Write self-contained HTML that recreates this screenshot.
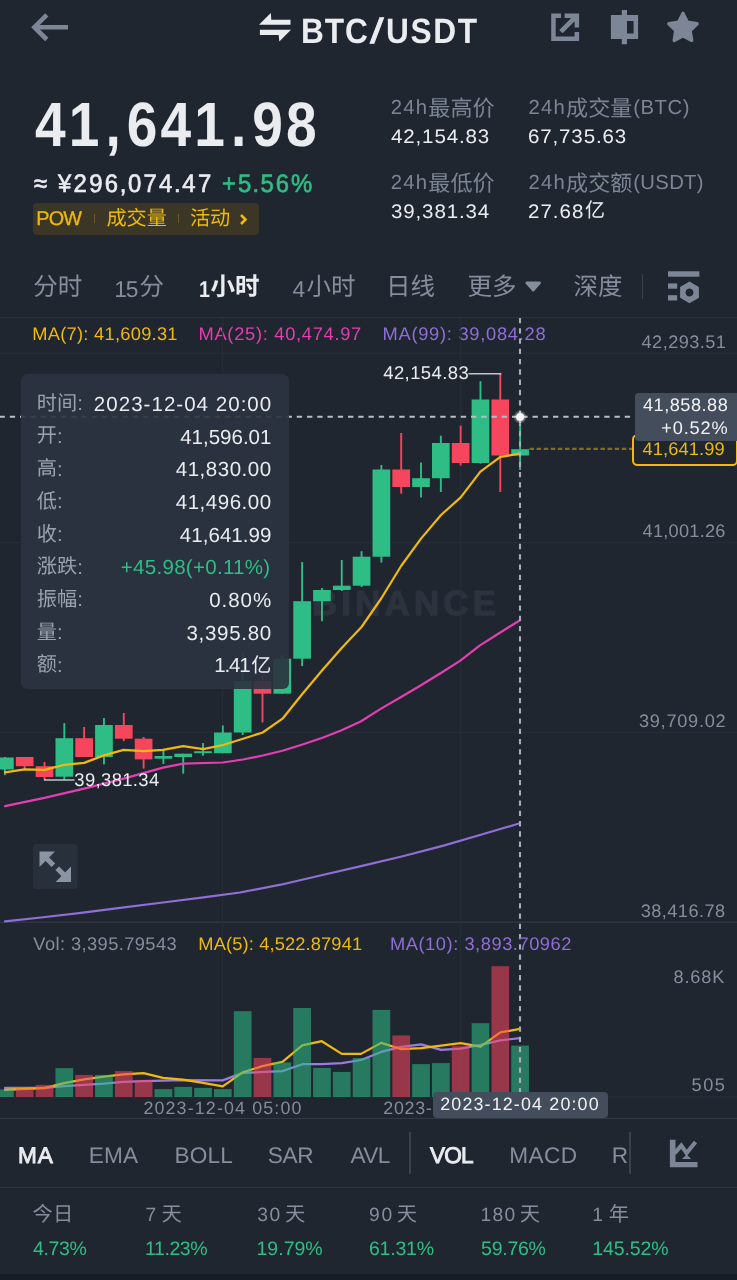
<!DOCTYPE html>
<html lang="zh"><head><meta charset="utf-8"><title>BTC/USDT</title>
<style>
html,body{margin:0;padding:0;background:#1f2630;}
body{width:737px;height:1280px;overflow:hidden;position:relative;font-family:"Liberation Sans",sans-serif;text-rendering:geometricPrecision;}
#app{position:absolute;left:0;top:0;width:737px;height:1280px;will-change:transform}
.abs{position:absolute;display:block}
.t{position:absolute;white-space:nowrap;line-height:1;}
.c{font-family:"Liberation Sans","Noto Sans CJK SC",sans-serif;display:inline-block;line-height:1;}
.cb .c{font-weight:bold}
.p{margin:0 3.2px}
.q{margin:0 -0.7px}
.m{-webkit-text-stroke:0.65px currentColor}
.m3{-webkit-text-stroke:0.3px currentColor}
.m9{-webkit-text-stroke:0.9px currentColor}
.wm{-webkit-text-stroke:1.3px currentColor}
</style></head><body>
<div id="app">
<svg class="abs" style="left:0;top:0" width="737" height="70" viewBox="0 0 737 70">
<g fill="none" stroke="#7d8696" stroke-width="4.6" stroke-linejoin="miter">
<path d="M46.8 14.9 L34.4 27.2 L46.8 39.5"/><path d="M34.4 27.2 H68"/></g>
<g fill="#eaecef">
<path d="M259 24.8 L270.8 13 L271.3 19.7 H290.5 V24.8 Z"/>
<path d="M291 29.8 L279.3 41.6 L278.7 35 H259.9 V29.8 Z"/></g>
<g fill="#7d8696">
<path d="M551.2 13.4 H561 V17.9 H555.7 V36.5 H574.6 V32.1 H579.1 V41 H551.2 Z"/>
<path d="M564.6 13.4 H579.1 V27.6 H574.6 V21.3 L562.6 33.3 L559.2 29.9 L571.2 17.9 H564.6 Z"/>
<path d="M621.8 10.1 H627 V14.9 H638.1 V39.1 H627 V44.3 H621.8 V39.1 H610.9 V14.9 H621.8 Z M627 20.9 V33.6 H633.6 V20.9 Z" fill-rule="evenodd"/>
<path d="M683.0 13.4 L687.4 22.2 L697.1 23.7 L690.1 30.6 L691.7 40.4 L683.0 35.8 L674.2 40.4 L675.8 30.6 L668.8 23.7 L678.5 22.2 Z" stroke="#7d8696" stroke-width="3.4" stroke-linejoin="round"/>
</g></svg>
<div class="t" style="top:14.0px;font-size:35.2px;color:#eaecef;left:300.68px;letter-spacing:0.932px;font-weight:bold;transform:scaleX(0.9);transform-origin:left top;">BTC</div>
<div class="t m" style="top:14.0px;font-size:35.2px;color:#eaecef;left:369.8px;transform:scaleX(1.401);transform-origin:left top;">/</div>
<div class="t" style="top:14.0px;font-size:35.2px;color:#eaecef;left:385.5px;letter-spacing:1.817px;font-weight:bold;transform:scaleX(0.9);transform-origin:left top;">USDT</div>
<div class="t" style="top:94.41px;font-size:62.6px;color:#eaecef;left:35px;letter-spacing:3.6px;font-weight:bold;transform:scaleX(0.88);transform-origin:left top;">41<span class="p">,</span>641<span class="p">.</span>98</div>
<div class="t m" style="top:171.7px;font-size:25.4px;color:#eaecef;left:33.5px;transform:scaleX(0.94);transform-origin:left top;">≈</div>
<div class="t m" style="top:171.7px;font-size:25.4px;color:#eaecef;left:57.8px;letter-spacing:2.45px;transform:scaleX(0.94);transform-origin:left top;">¥296<span class="q">,</span>074<span class="q">.</span>47</div>
<div class="t m" style="top:171.7px;font-size:25.4px;color:#2ebd85;left:221.5px;letter-spacing:2.1px;transform:scaleX(0.94);transform-origin:left top;">+5<span class="q">.</span>56%</div>
<div class="abs" style="left:33px;top:202.7px;width:226.2px;height:32.3px;background:#3b3626;border-radius:4px;"></div>
<div class="t m3" style="top:209.81px;font-size:19.83px;color:#f0b90b;left:36.37px;letter-spacing:-0.886px;">POW</div>
<div class="abs" style="left:93.6px;top:214.4px;width:1.4px;height:8.6px;background:#6a5a25;"></div>
<div class="t" style="top:208.8px;font-size:20.2px;color:#f0b90b;left:106.4px;"><span class="c">成交量</span></div>
<div class="abs" style="left:177.8px;top:214.4px;width:1.4px;height:8.6px;background:#6a5a25;"></div>
<div class="t" style="top:208.8px;font-size:20.2px;color:#f0b90b;left:189.9px;"><span class="c">活动</span></div>
<svg class="abs" style="left:237px;top:211px" width="12" height="18" viewBox="0 0 12 18"><path d="M4 4 L8.5 8.5 L4 13" fill="none" stroke="#f0b90b" stroke-width="2.6"/></svg>
<div class="t" style="top:97.82px;font-size:20.3px;color:#7b8595;left:390.68px;letter-spacing:1.235px;">24h</div>
<div class="t" style="top:97.6px;font-size:22.1px;color:#7b8595;left:428.3px;"><span class="c">最高价</span></div>
<div class="t" style="top:127.65px;font-size:19.55px;color:#eaecef;left:391.23px;letter-spacing:0.828px;transform:scaleX(1.05);transform-origin:left top;">42,154.83</div>
<div class="t" style="top:97.82px;font-size:20.3px;color:#7b8595;left:528.48px;letter-spacing:1.235px;">24h</div>
<div class="t" style="top:97.6px;font-size:22.1px;color:#7b8595;left:566.1px;"><span class="c">成交量</span></div>
<div class="t" style="top:97.82px;font-size:20.3px;color:#7b8595;left:633.24px;letter-spacing:0.524px;">(BTC)</div>
<div class="t" style="top:127.65px;font-size:19.55px;color:#eaecef;left:528.46px;letter-spacing:0.824px;transform:scaleX(1.05);transform-origin:left top;">67,735.63</div>
<div class="t" style="top:172.72px;font-size:20.3px;color:#7b8595;left:390.68px;letter-spacing:1.235px;">24h</div>
<div class="t" style="top:172.5px;font-size:22.1px;color:#7b8595;left:428.3px;"><span class="c">最低价</span></div>
<div class="t" style="top:202.95px;font-size:19.55px;color:#eaecef;left:390.92px;letter-spacing:0.829px;transform:scaleX(1.05);transform-origin:left top;">39,381.34</div>
<div class="t" style="top:172.72px;font-size:20.3px;color:#7b8595;left:528.48px;letter-spacing:1.235px;">24h</div>
<div class="t" style="top:172.5px;font-size:22.1px;color:#7b8595;left:566.1px;"><span class="c">成交额</span></div>
<div class="t" style="top:172.72px;font-size:20.3px;color:#7b8595;left:633.24px;letter-spacing:0.328px;">(USDT)</div>
<div class="t" style="top:202.95px;font-size:19.55px;color:#eaecef;left:528.47px;letter-spacing:0.966px;transform:scaleX(1.05);transform-origin:left top;">27.68</div>
<div class="t" style="top:201px;font-size:20px;color:#eaecef;left:585px;"><span class="c">亿</span></div>
<div class="t" style="top:276.2px;font-size:24.5px;color:#848e9c;left:33.2px;"><span class="c">分时</span></div>
<div class="t" style="top:278.23px;font-size:22.77px;color:#848e9c;left:114.37px;letter-spacing:-1.337px;">15</div>
<div class="t" style="top:276.2px;font-size:24.5px;color:#848e9c;left:139.4px;"><span class="c">分</span></div>
<div class="t" style="top:278.23px;font-size:22.77px;color:#eaecef;left:199.07px;letter-spacing:-2.456px;font-weight:bold;transform:scaleX(0.86);transform-origin:left top;">1</div>
<div class="t cb" style="top:276.2px;font-size:24.5px;color:#eaecef;left:210.4px;"><span class="c">小时</span></div>
<div class="t" style="top:278.23px;font-size:22.77px;color:#848e9c;left:292.58px;letter-spacing:-0.974px;">4</div>
<div class="t" style="top:276.2px;font-size:24.5px;color:#848e9c;left:306.4px;"><span class="c">小时</span></div>
<div class="t" style="top:276.2px;font-size:24.5px;color:#848e9c;left:386px;"><span class="c">日线</span></div>
<div class="t" style="top:276.2px;font-size:24.5px;color:#848e9c;left:467.6px;"><span class="c">更多</span></div>
<svg class="abs" style="left:523px;top:278px" width="20" height="16" viewBox="523 278 20 16"><path d="M526.8 282.8 H539.6 L533.2 290.2 Z" fill="#848e9c" stroke="#848e9c" stroke-width="2.6" stroke-linejoin="round"/></svg>
<div class="t" style="top:276.2px;font-size:24.5px;color:#848e9c;left:573.4px;"><span class="c">深度</span></div>
<div class="abs" style="left:641.8px;top:274px;width:1.6px;height:24.5px;background:#3a424e;"></div>
<svg class="abs" style="left:660px;top:265px" width="50" height="45" viewBox="660 265 50 45"><g fill="#7d8696">
<rect x="668" y="271.3" width="31.4" height="5.4"/><rect x="668" y="283.4" width="9.2" height="5.3"/><rect x="668" y="295.2" width="9.2" height="5.3"/>
<path fill-rule="evenodd" d="M689.5 281.6 L698.9 287 V297.8 L689.5 303.2 L680.1 297.8 V287 Z M689.5 288.4 a4 4 0 1 0 0.01 0 Z"/></g></svg>
<div class="abs" style="left:0px;top:317.4px;width:737px;height:1px;background:#29313c;"></div>
<div class="t" style="top:324.91px;font-size:18.3px;color:#f0b90b;left:32.2px;letter-spacing:0.273px;">MA(7): 41,609.31</div>
<div class="t" style="top:324.91px;font-size:18.3px;color:#e33fb0;left:198.5px;letter-spacing:0.709px;">MA(25): 40,474.97</div>
<div class="t" style="top:324.91px;font-size:18.3px;color:#8f6fd6;left:382.5px;letter-spacing:0.733px;">MA(99): 39,084.28</div>
<div class="t wm" style="top:587.36px;font-size:34.78px;color:#2c333e;left:311.97px;letter-spacing:4.257px;font-weight:bold;">BINANCE</div>
<svg class="abs" style="left:0;top:318px" width="737" height="802" viewBox="0 318 737 802">
<rect x="0" y="352.7" width="737" height="1" fill="#272e39"/>
<rect x="0" y="542.2" width="737" height="1" fill="#272e39"/>
<rect x="0" y="731.8" width="737" height="1" fill="#272e39"/>
<rect x="0" y="921.6" width="737" height="1.2" fill="#323a46"/>
<rect x="0" y="1096.4" width="737" height="1" fill="#272e39"/>
<rect x="222.2" y="318" width="1" height="779" fill="#272e39"/>
<rect x="460.2" y="318" width="1" height="779" fill="#272e39"/>
<rect x="3.93" y="757" width="1.9" height="18.0" fill="#2ebd85"/>
<rect x="-3.97" y="757.5" width="17.7" height="12.0" fill="#2ebd85"/>
<rect x="23.75" y="757" width="1.9" height="12.5" fill="#f6465d"/>
<rect x="15.85" y="757" width="17.7" height="9.2" fill="#f6465d"/>
<rect x="43.57" y="762" width="1.9" height="18.0" fill="#f6465d"/>
<rect x="35.67" y="766.2" width="17.7" height="10.8" fill="#f6465d"/>
<rect x="63.38" y="723.2" width="1.9" height="56.2" fill="#2ebd85"/>
<rect x="55.48" y="738.2" width="17.7" height="38.5" fill="#2ebd85"/>
<rect x="83.20" y="727" width="1.9" height="30.0" fill="#f6465d"/>
<rect x="75.30" y="738.2" width="17.7" height="18.8" fill="#f6465d"/>
<rect x="103.01" y="718" width="1.9" height="46.4" fill="#2ebd85"/>
<rect x="95.11" y="725" width="17.7" height="32.0" fill="#2ebd85"/>
<rect x="122.83" y="713" width="1.9" height="28.2" fill="#f6465d"/>
<rect x="114.93" y="725" width="17.7" height="13.7" fill="#f6465d"/>
<rect x="142.65" y="737" width="1.9" height="31.6" fill="#f6465d"/>
<rect x="134.75" y="738.7" width="17.7" height="20.7" fill="#f6465d"/>
<rect x="162.46" y="750" width="1.9" height="14.0" fill="#2ebd85"/>
<rect x="154.56" y="756" width="17.7" height="2.7" fill="#2ebd85"/>
<rect x="182.28" y="753.7" width="1.9" height="20.0" fill="#2ebd85"/>
<rect x="174.38" y="753.7" width="17.7" height="3.3" fill="#2ebd85"/>
<rect x="202.09" y="743" width="1.9" height="12.7" fill="#2ebd85"/>
<rect x="194.19" y="751.2" width="17.7" height="2.0" fill="#2ebd85"/>
<rect x="221.91" y="725.5" width="1.9" height="27.7" fill="#2ebd85"/>
<rect x="214.01" y="732.5" width="17.7" height="20.7" fill="#2ebd85"/>
<rect x="241.73" y="652.5" width="1.9" height="82.5" fill="#2ebd85"/>
<rect x="233.83" y="681" width="17.7" height="51.5" fill="#2ebd85"/>
<rect x="261.54" y="675" width="1.9" height="47.5" fill="#f6465d"/>
<rect x="253.64" y="681" width="17.7" height="12.7" fill="#f6465d"/>
<rect x="281.36" y="655" width="1.9" height="38.7" fill="#2ebd85"/>
<rect x="273.46" y="658.7" width="17.7" height="35.0" fill="#2ebd85"/>
<rect x="301.17" y="562" width="1.9" height="104.0" fill="#2ebd85"/>
<rect x="293.27" y="601.2" width="17.7" height="57.5" fill="#2ebd85"/>
<rect x="320.99" y="588" width="1.9" height="33.2" fill="#2ebd85"/>
<rect x="313.09" y="590" width="17.7" height="11.2" fill="#2ebd85"/>
<rect x="340.81" y="560" width="1.9" height="31.0" fill="#2ebd85"/>
<rect x="332.91" y="585.7" width="17.7" height="4.3" fill="#2ebd85"/>
<rect x="360.62" y="551.2" width="1.9" height="35.8" fill="#2ebd85"/>
<rect x="352.72" y="556.7" width="17.7" height="29.0" fill="#2ebd85"/>
<rect x="380.44" y="465" width="1.9" height="97.5" fill="#2ebd85"/>
<rect x="372.54" y="469.5" width="17.7" height="87.2" fill="#2ebd85"/>
<rect x="400.25" y="433" width="1.9" height="60.7" fill="#f6465d"/>
<rect x="392.35" y="469.5" width="17.7" height="17.5" fill="#f6465d"/>
<rect x="420.07" y="462.5" width="1.9" height="35.0" fill="#2ebd85"/>
<rect x="412.17" y="478.2" width="17.7" height="8.8" fill="#2ebd85"/>
<rect x="439.89" y="435.7" width="1.9" height="56.3" fill="#2ebd85"/>
<rect x="431.99" y="443" width="17.7" height="35.2" fill="#2ebd85"/>
<rect x="459.70" y="425.7" width="1.9" height="39.8" fill="#f6465d"/>
<rect x="451.80" y="443" width="17.7" height="20.0" fill="#f6465d"/>
<rect x="479.52" y="381.2" width="1.9" height="82.5" fill="#2ebd85"/>
<rect x="471.62" y="399.5" width="17.7" height="63.5" fill="#2ebd85"/>
<rect x="499.33" y="373.7" width="1.9" height="118.3" fill="#f6465d"/>
<rect x="491.43" y="399.5" width="17.7" height="56.0" fill="#f6465d"/>
<rect x="519.15" y="421" width="1.9" height="49.0" fill="#2ebd85"/>
<rect x="511.25" y="449.2" width="17.7" height="6.3" fill="#2ebd85"/>
<path d="M5.0 921.4 L41.0 917.5 L81.0 912.8 L122.0 907.6 L163.0 902.5 L203.5 897.3 L240.0 892.5 L280.7 884.7 L321.4 875.3 L362.1 865.9 L402.8 856.2 L443.5 845.6 L484.2 833.8 L519.8 823.3" fill="none" stroke="#8f6fd6" stroke-width="2.2" stroke-linejoin="round" stroke-linecap="round"/>
<path d="M5.0 806.1 L44.4 797.9 L84.1 788.6 L123.6 778.6 L163.0 767.6 L183.2 763.7 L223.0 762.5 L243.0 759.5 L262.7 755.5 L282.5 750.7 L302.5 744.5 L322.5 737.8 L341.0 730.5 L360.7 721.5 L380.2 709.1 L399.8 697.7 L419.3 686.3 L440.5 673.3 L460.0 660.9 L479.6 645.6 L499.1 633.2 L520.0 620.2" fill="none" stroke="#e33fb0" stroke-width="2.2" stroke-linejoin="round" stroke-linecap="round"/>
<path d="M5.0 772.4 L24.5 769.4 L44.4 769.9 L64.2 764.9 L84.1 762.9 L103.9 755.4 L123.6 749.9 L143.6 751.2 L163.0 749.9 L183.2 746.2 L203.2 749.2 L223.0 745.0 L243.0 738.7 L262.7 732.5 L282.5 718.7 L302.5 693.7 L322.0 670.5 L341.7 648.0 L361.5 627.0 L381.2 598.5 L401.1 566.0 L421.0 538.6 L441.0 515.0 L460.7 497.4 L480.4 471.6 L500.4 456.9 L520.1 453.6" fill="none" stroke="#f0b90b" stroke-width="2.2" stroke-linejoin="round" stroke-linecap="round"/>
<path d="M5.0 1087.9 L44.4 1087.9 L64.2 1086.1 L103.9 1083.6 L123.6 1081.9 L143.6 1081.1 L183.0 1080.2 L222.7 1080.4 L242.7 1072.9 L282.4 1071.1 L302.3 1064.2 L321.8 1064.2 L341.8 1063.2 L361.0 1060.0 L381.2 1051.9 L401.2 1046.9 L421.2 1044.4 L441.1 1049.9 L460.6 1048.6 L480.6 1044.9 L500.3 1040.4 L519.8 1038.1" fill="none" stroke="#9a7be0" stroke-width="2.2" stroke-linejoin="round" stroke-linecap="round"/>
<path d="M5.0 1089.9 L44.4 1088.1 L64.2 1083.1 L84.1 1079.4 L103.9 1076.6 L123.6 1074.4 L143.6 1073.1 L163.0 1077.9 L183.0 1079.7 L203.0 1082.9 L222.7 1086.4 L242.7 1072.4 L262.4 1066.1 L282.4 1061.9 L302.3 1045.4 L321.8 1041.2 L341.8 1053.9 L361.0 1053.9 L381.2 1042.9 L401.2 1049.1 L421.2 1048.1 L441.1 1045.6 L460.6 1043.1 L480.6 1046.6 L500.3 1032.4 L519.8 1028.9" fill="none" stroke="#f0b90b" stroke-width="2.2" stroke-linejoin="round" stroke-linecap="round"/>
<rect x="-3.97" y="1089.4" width="17.7" height="7.6" fill="#2ebd85" fill-opacity="0.56"/>
<rect x="15.85" y="1088.6" width="17.7" height="8.4" fill="#f6465d" fill-opacity="0.56"/>
<rect x="35.67" y="1084.9" width="17.7" height="12.1" fill="#f6465d" fill-opacity="0.56"/>
<rect x="55.48" y="1068.1" width="17.7" height="28.9" fill="#2ebd85" fill-opacity="0.56"/>
<rect x="75.30" y="1074.9" width="17.7" height="22.1" fill="#f6465d" fill-opacity="0.56"/>
<rect x="95.11" y="1074.9" width="17.7" height="22.1" fill="#2ebd85" fill-opacity="0.56"/>
<rect x="114.93" y="1071.1" width="17.7" height="25.9" fill="#f6465d" fill-opacity="0.56"/>
<rect x="134.75" y="1079.9" width="17.7" height="17.1" fill="#f6465d" fill-opacity="0.56"/>
<rect x="154.56" y="1089.1" width="17.7" height="7.9" fill="#2ebd85" fill-opacity="0.56"/>
<rect x="174.38" y="1086.9" width="17.7" height="10.1" fill="#2ebd85" fill-opacity="0.56"/>
<rect x="194.19" y="1087.9" width="17.7" height="9.1" fill="#2ebd85" fill-opacity="0.56"/>
<rect x="214.01" y="1089.1" width="17.7" height="7.9" fill="#2ebd85" fill-opacity="0.56"/>
<rect x="233.83" y="1011.2" width="17.7" height="85.8" fill="#2ebd85" fill-opacity="0.56"/>
<rect x="253.64" y="1057.9" width="17.7" height="39.1" fill="#f6465d" fill-opacity="0.56"/>
<rect x="273.46" y="1062.4" width="17.7" height="34.6" fill="#2ebd85" fill-opacity="0.56"/>
<rect x="293.27" y="1008" width="17.7" height="89.0" fill="#2ebd85" fill-opacity="0.56"/>
<rect x="313.09" y="1067.9" width="17.7" height="29.1" fill="#2ebd85" fill-opacity="0.56"/>
<rect x="332.91" y="1071.9" width="17.7" height="25.1" fill="#2ebd85" fill-opacity="0.56"/>
<rect x="352.72" y="1058" width="17.7" height="39.0" fill="#2ebd85" fill-opacity="0.56"/>
<rect x="372.54" y="1009.9" width="17.7" height="87.1" fill="#2ebd85" fill-opacity="0.56"/>
<rect x="392.35" y="1035.4" width="17.7" height="61.6" fill="#f6465d" fill-opacity="0.56"/>
<rect x="412.17" y="1064.1" width="17.7" height="32.9" fill="#2ebd85" fill-opacity="0.56"/>
<rect x="431.99" y="1063.1" width="17.7" height="33.9" fill="#2ebd85" fill-opacity="0.56"/>
<rect x="451.80" y="1046.1" width="17.7" height="50.9" fill="#f6465d" fill-opacity="0.56"/>
<rect x="471.62" y="1023.2" width="17.7" height="73.8" fill="#2ebd85" fill-opacity="0.56"/>
<rect x="491.43" y="966.2" width="17.7" height="130.8" fill="#f6465d" fill-opacity="0.56"/>
<rect x="511.25" y="1045.6" width="17.7" height="51.4" fill="#2ebd85" fill-opacity="0.56"/>
<rect x="468.5" y="373.2" width="32.8" height="1.2" fill="#eaecef"/>
<rect x="44" y="779.4" width="30.5" height="1.2" fill="#eaecef"/>
<path d="M529.5 448.8 H633" stroke="#826d27" stroke-width="2.2" stroke-dasharray="4.5 2.6" fill="none"/>
<path d="M0 416.8 H631" stroke="#b9bdc4" stroke-width="2" stroke-dasharray="5.35 4.9" stroke-dashoffset="0.5" fill="none"/>
<path d="M520 318 V1097" stroke="#a8adb5" stroke-width="2.1" stroke-dasharray="5.3 4.967" fill="none"/>
<circle cx="520.1" cy="416.9" r="6" fill="#ffffff" fill-opacity="0.3"/><circle cx="520.1" cy="416.9" r="4" fill="#f5f6f7"/>
</svg>
<div class="t" style="top:363.89px;font-size:18.44px;color:#eaecef;left:383.28px;letter-spacing:0.425px;">42,154.83</div>
<div class="t" style="top:770.89px;font-size:18.44px;color:#eaecef;left:74.3px;letter-spacing:0.363px;">39,381.34</div>
<div class="t" style="top:332.93px;font-size:18.16px;color:#848e9c;left:641.58px;letter-spacing:0.439px;">42,293.51</div>
<div class="t" style="top:522.03px;font-size:18.16px;color:#848e9c;left:642.58px;letter-spacing:0.253px;">41,001.26</div>
<div class="t" style="top:712.03px;font-size:18.16px;color:#848e9c;left:638.91px;letter-spacing:0.752px;">39,709.02</div>
<div class="t" style="top:901.63px;font-size:18.16px;color:#848e9c;left:640.71px;letter-spacing:0.449px;">38,416.78</div>
<div class="t" style="top:967.93px;font-size:18.16px;color:#848e9c;left:673.51px;letter-spacing:0.834px;">8.68K</div>
<div class="t" style="top:1076.03px;font-size:18.16px;color:#848e9c;left:691.57px;letter-spacing:1.495px;">505</div>
<div class="t" style="top:935.01px;font-size:18.3px;color:#848e9c;left:33.32px;letter-spacing:0.407px;">Vol: 3,395.79543</div>
<div class="t" style="top:935.01px;font-size:18.3px;color:#f0b90b;left:198.3px;letter-spacing:0.132px;">MA(5): 4,522.87941</div>
<div class="t" style="top:935.01px;font-size:18.3px;color:#8f6fd6;left:390.0px;letter-spacing:0.538px;">MA(10): 3,893.70962</div>
<div class="t" style="top:1099.86px;font-size:17.88px;color:#848e9c;left:143.4px;letter-spacing:1.135px;">2023-12-04 05:00</div>
<div class="t" style="top:1099.86px;font-size:17.88px;color:#848e9c;left:383.3px;letter-spacing:0.691px;">2023-</div>
<svg class="abs" style="left:33px;top:844px" width="45" height="45" viewBox="33 844 45 45">
<rect x="33" y="844" width="44.7" height="45" rx="3.5" fill="#27303b"/>
<g fill="#8b94a3"><path d="M39.5 851.4 H55 L39.5 866.9 Z"/><path d="M48.4 856.7 L55.2 863.5 L51.6 867.1 L44.8 860.3 Z"/>
<path d="M71 882.1 H55.6 L71 866.6 Z"/><path d="M65.7 873.1 L59.0 866.4 L55.4 870.0 L62.1 876.7 Z"/></g></svg>
<div class="abs" style="left:632.4px;top:433.8px;width:101.2px;height:28.4px;border:2px solid #f0b90b;border-radius:5.5px"></div>
<div class="t" style="top:439.51px;font-size:18.3px;color:#f0b90b;left:642.48px;letter-spacing:0.122px;">41,641.99</div>
<div class="abs" style="left:635px;top:392.5px;width:106px;height:48.6px;background:#444d5c;border-radius:4px;"></div>
<div class="t" style="top:395.93px;font-size:18.16px;color:#f2f3f5;left:642.98px;letter-spacing:0.502px;">41,858.88</div>
<div class="t" style="top:418.83px;font-size:18.16px;color:#f2f3f5;left:661.21px;letter-spacing:0.867px;">+0.52%</div>
<div class="abs" style="left:432.5px;top:1092.3px;width:175.2px;height:26px;background:#444d5c;border-radius:4px;"></div>
<div class="t" style="top:1096.16px;font-size:17.88px;color:#f2f3f5;left:440.2px;letter-spacing:1.162px;">2023-12-04 20:00</div>
<div class="abs" style="left:20.6px;top:373.8px;width:268.4px;height:315px;background:rgba(43,51,63,0.915);border-radius:6px;"></div>
<div class="t" style="top:393.7px;font-size:20.2px;color:#9aa2af;left:36.7px;"><span class="c">时间</span></div>
<div class="t" style="top:394.23px;font-size:20.4px;color:#9aa2af;left:77.34px;letter-spacing:0.458px;">:</div>
<div class="t" style="top:395.45px;font-size:20.5px;color:#eaecef;left:93.87px;letter-spacing:1.032px;">2023-12-04 20:00</div>
<div class="t" style="top:426.4px;font-size:20.2px;color:#9aa2af;left:36.7px;"><span class="c">开</span></div>
<div class="t" style="top:426.93px;font-size:20.4px;color:#9aa2af;left:56.94px;letter-spacing:0.458px;">:</div>
<div class="t" style="top:427.55px;font-size:20.5px;color:#eaecef;left:180.23px;letter-spacing:-0.003px;">41,596.01</div>
<div class="t" style="top:459.1px;font-size:20.2px;color:#9aa2af;left:36.7px;"><span class="c">高</span></div>
<div class="t" style="top:459.63px;font-size:20.4px;color:#9aa2af;left:56.94px;letter-spacing:0.458px;">:</div>
<div class="t" style="top:460.25px;font-size:20.5px;color:#eaecef;left:175.73px;letter-spacing:0.534px;">41,830.00</div>
<div class="t" style="top:491.8px;font-size:20.2px;color:#9aa2af;left:36.7px;"><span class="c">低</span></div>
<div class="t" style="top:492.33px;font-size:20.4px;color:#9aa2af;left:56.94px;letter-spacing:0.458px;">:</div>
<div class="t" style="top:492.95px;font-size:20.5px;color:#eaecef;left:175.73px;letter-spacing:0.534px;">41,496.00</div>
<div class="t" style="top:524.5px;font-size:20.2px;color:#9aa2af;left:36.7px;"><span class="c">收</span></div>
<div class="t" style="top:525.03px;font-size:20.4px;color:#9aa2af;left:56.94px;letter-spacing:0.458px;">:</div>
<div class="t" style="top:525.65px;font-size:20.5px;color:#eaecef;left:179.83px;letter-spacing:0.043px;">41,641.99</div>
<div class="t" style="top:557.2px;font-size:20.2px;color:#9aa2af;left:36.7px;"><span class="c">涨跌</span></div>
<div class="t" style="top:557.73px;font-size:20.4px;color:#9aa2af;left:77.34px;letter-spacing:0.458px;">:</div>
<div class="t" style="top:558.35px;font-size:20.5px;color:#2ebd85;left:120.8px;letter-spacing:0.296px;">+45.98(+0.11%)</div>
<div class="t" style="top:589.9px;font-size:20.2px;color:#9aa2af;left:36.7px;"><span class="c">振幅</span></div>
<div class="t" style="top:590.43px;font-size:20.4px;color:#9aa2af;left:77.34px;letter-spacing:0.458px;">:</div>
<div class="t" style="top:591.05px;font-size:20.5px;color:#eaecef;left:209.2px;letter-spacing:0.951px;">0.80%</div>
<div class="t" style="top:622.6px;font-size:20.2px;color:#9aa2af;left:36.7px;"><span class="c">量</span></div>
<div class="t" style="top:623.13px;font-size:20.4px;color:#9aa2af;left:56.94px;letter-spacing:0.458px;">:</div>
<div class="t" style="top:623.75px;font-size:20.5px;color:#eaecef;left:186.42px;letter-spacing:0.712px;">3,395.80</div>
<div class="t" style="top:655.3px;font-size:20.2px;color:#9aa2af;left:36.7px;"><span class="c">额</span></div>
<div class="t" style="top:655.83px;font-size:20.4px;color:#9aa2af;left:56.94px;letter-spacing:0.458px;">:</div>
<div class="t" style="top:656.45px;font-size:20.5px;color:#eaecef;left:214.14px;letter-spacing:-1.145px;">1.41</div>
<div class="t" style="top:655.6px;font-size:20px;color:#eaecef;left:251.2px;"><span class="c">亿</span></div>
<div class="abs" style="left:0px;top:1118.4px;width:737px;height:1.1px;background:#323a46;"></div>
<div class="t m9" style="top:1144.54px;font-size:22.63px;color:#eaecef;left:17.94px;letter-spacing:1.056px;">MA</div>
<div class="t" style="top:1144.54px;font-size:22.63px;color:#848e9c;left:88.74px;letter-spacing:0.181px;">EMA</div>
<div class="t" style="top:1144.54px;font-size:22.63px;color:#848e9c;left:174.44px;letter-spacing:0.147px;">BOLL</div>
<div class="t" style="top:1144.54px;font-size:22.63px;color:#848e9c;left:267.67px;letter-spacing:-0.277px;">SAR</div>
<div class="t" style="top:1144.54px;font-size:22.63px;color:#848e9c;left:350.46px;letter-spacing:-0.639px;">AVL</div>
<div class="t m9" style="top:1144.54px;font-size:22.63px;color:#eaecef;left:429.9px;letter-spacing:-0.766px;">VOL</div>
<div class="t" style="top:1144.54px;font-size:22.63px;color:#848e9c;left:509.24px;letter-spacing:0.403px;">MACD</div>
<div class="t" style="top:1144.54px;font-size:22.63px;color:#848e9c;left:611.64px;letter-spacing:-0.637px;">R</div>
<div class="abs" style="left:409.3px;top:1132px;width:1.4px;height:42px;background:#39414d;"></div>
<div class="abs" style="left:629.4px;top:1132px;width:1.4px;height:42px;background:#39414d;"></div>
<svg class="abs" style="left:660px;top:1130px" width="50" height="45" viewBox="660 1130 50 45"><g fill="#7d8696">
<path d="M669.9 1139.7 H675.5 V1162 H697.5 V1167.3 H669.9 Z"/>
<path d="M674.5 1153.4 L681.3 1145.6 L686.6 1153 L695.5 1142" fill="none" stroke="#7d8696" stroke-width="4.1" stroke-linejoin="miter"/>
<path d="M686.6 1154.4 L691.2 1159 H682 Z"/></g></svg>
<div class="abs" style="left:0px;top:1187.1px;width:737px;height:1.1px;background:#2f3743;"></div>
<div class="t" style="top:1205.3px;font-size:20.3px;color:#848e9c;left:32.6px;"><span class="c">今日</span></div>
<div class="t" style="top:1240.19px;font-size:19.5px;color:#2ebd85;left:32.95px;letter-spacing:-0.337px;">4.73%</div>
<div class="t" style="top:1206.26px;font-size:19.3px;color:#848e9c;left:145.51px;letter-spacing:0.726px;">7</div>
<div class="t" style="top:1205.3px;font-size:20.3px;color:#848e9c;left:161.4px;"><span class="c">天</span></div>
<div class="t" style="top:1240.19px;font-size:19.5px;color:#2ebd85;left:145.01px;letter-spacing:-0.411px;">11.23%</div>
<div class="t" style="top:1206.26px;font-size:19.3px;color:#848e9c;left:257.26px;letter-spacing:1.521px;">30</div>
<div class="t" style="top:1205.3px;font-size:20.3px;color:#848e9c;left:284.9px;"><span class="c">天</span></div>
<div class="t" style="top:1240.19px;font-size:19.5px;color:#2ebd85;left:256.51px;letter-spacing:0.009px;">19.79%</div>
<div class="t" style="top:1206.26px;font-size:19.3px;color:#848e9c;left:369.0px;letter-spacing:1.691px;">90</div>
<div class="t" style="top:1205.3px;font-size:20.3px;color:#848e9c;left:396.79999999999995px;"><span class="c">天</span></div>
<div class="t" style="top:1240.19px;font-size:19.5px;color:#2ebd85;left:368.91px;letter-spacing:-0.21px;">61.31%</div>
<div class="t" style="top:1206.26px;font-size:19.3px;color:#848e9c;left:480.43px;letter-spacing:1.261px;">180</div>
<div class="t" style="top:1205.3px;font-size:20.3px;color:#848e9c;left:519.8px;"><span class="c">天</span></div>
<div class="t" style="top:1240.19px;font-size:19.5px;color:#2ebd85;left:481.12px;letter-spacing:-0.272px;">59.76%</div>
<div class="t" style="top:1206.26px;font-size:19.3px;color:#848e9c;left:592.33px;letter-spacing:1.179px;">1</div>
<div class="t" style="top:1205.3px;font-size:20.3px;color:#848e9c;left:608.6999999999999px;"><span class="c">年</span></div>
<div class="t" style="top:1240.19px;font-size:19.5px;color:#2ebd85;left:592.31px;letter-spacing:-0.1px;">145.52%</div>
<div class="abs" style="left:0px;top:1273.5px;width:737px;height:7px;background:#171c24;"></div>
</div>
</body></html>
